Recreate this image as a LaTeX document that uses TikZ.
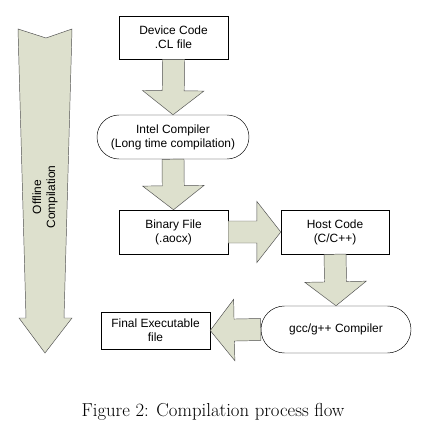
\documentclass[tikz,border=0pt]{standalone}
\usepackage{fontspec}
\setsansfont{Liberation Sans}
\usetikzlibrary{calc,shapes.misc}

\definecolor{arrowfill}{RGB}{221,224,205}
\definecolor{arrowline}{RGB}{80,80,80}

\tikzset{
  filebox/.style={draw, thin, fill=white, align=center, inner sep=0pt,
    font=\sffamily\fontsize{10.2}{12}\selectfont,
    minimum width=3.27cm, minimum height=1.3cm},
  toolbox/.style={filebox, rounded rectangle},
  flowarrow/.style={draw=arrowline, fill=arrowfill, line join=miter}
}

% half shaft width, half head width, head length
\def\arrshaft{0.33cm}
\def\arrhead{0.92cm}
\def\arrtip{0.72cm}

% block arrow between two anchors
\newcommand{\blockarrow}[2]{%
  \coordinate (ba) at ($(#2)!\arrtip!(#1)$);
  \draw[flowarrow] ($(#1)!\arrshaft!90:(#2)$) -- ($(ba)!\arrshaft!90:(#2)$)
    -- ($(ba)!\arrhead!90:(#2)$) -- (#2) -- ($(ba)!\arrhead!-90:(#2)$)
    -- ($(ba)!\arrshaft!-90:(#2)$) -- ($(#1)!\arrshaft!-90:(#2)$) -- cycle;
}

\begin{document}
\begin{tikzpicture}[x=0.03cm, y=-0.03cm]
  \useasboundingbox (0,0) rectangle (422,431);

  % Offline compilation arrow on the left
  \draw[flowarrow] (18,29) -- (46,38) -- (72,29) -- (64,318) -- (72,318)
    -- (45,353) -- (19,318) -- (26,318) -- cycle;
  \node[rotate=90, align=center, font=\sffamily\fontsize{10.2}{12}\selectfont]
    (offline) at (45,197) {Offline\\Compilation};

  % Boxes
  \node[filebox] (dev) at (173.5,37.5) {Device Code\\.CL file};
  \node[toolbox, minimum width=4.56cm, minimum height=1.32cm] (intel) at (173,137)
    {Intel Compiler\\(Long time compilation)};
  \node[filebox, minimum height=1.32cm] (bin) at (173.5,232) {Binary File\\(.aocx)};
  \node[filebox, minimum width=3.24cm, minimum height=1.32cm] (host) at (335,232)
    {Host Code\\(C/C++)};
  \node[toolbox, minimum width=4.5cm, minimum height=1.41cm] (gcc) at (336,329.5)
    {gcc/g++ Compiler};
  \node[filebox, minimum height=1.11cm] (fin) at (155.5,330.5)
    {Final Executable\\file};

  % Flow arrows
  \blockarrow{dev.south}{intel.north}
  \blockarrow{intel.south}{bin.north}
  \blockarrow{bin.east}{host.west}
  \blockarrow{host.south}{gcc.north}
  \blockarrow{gcc.west}{fin.east}

  % Caption
  \node[font=\fontsize{16}{19}\selectfont] (caption) at (213,412)
    {Figure 2: Compilation process flow};
\end{tikzpicture}
\end{document}
